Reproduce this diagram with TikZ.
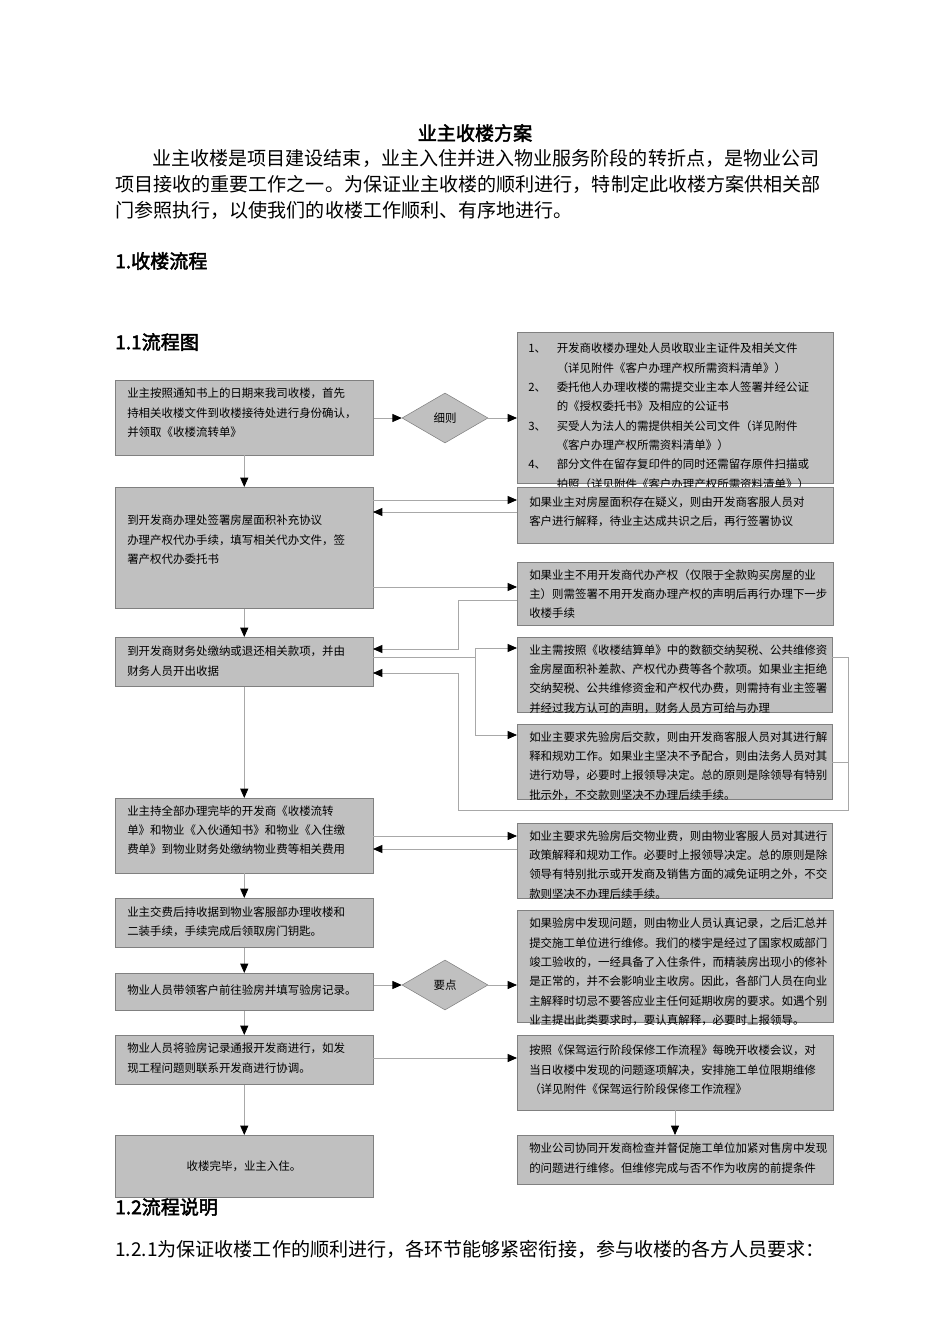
\documentclass[tikz,border=0pt]{standalone}
\usepackage{fontspec}
\setmainfont{Noto Sans CJK SC}[AutoFakeBold=2.5]
\usetikzlibrary{arrows.meta,shapes.geometric}
\definecolor{boxfill}{HTML}{C0C0C0}
\definecolor{boxline}{HTML}{808080}
\definecolor{wire}{HTML}{A8A8A8}
\tikzset{
  box/.style={draw=boxline,fill=boxfill,rectangle,anchor=north west,inner sep=0pt},
  txt/.style={anchor=north west,align=left,inner sep=0pt,font=\fontsize{8.6}{14.5}\selectfont},
  dia/.style={draw=boxline,fill=boxfill,diamond,minimum width=64.5pt,minimum height=37.5pt,inner sep=0pt,font=\fontsize{8.6}{12}\selectfont},
  flow/.style={draw=wire,line width=0.6pt,-{Triangle[length=7pt,width=6pt,fill=black,color=black]}},
  wireline/.style={draw=wire,line width=0.6pt},
  body/.style={anchor=west,inner sep=0pt,font=\fontsize{14.3}{18}\selectfont}
}
\begin{document}
\begin{tikzpicture}[x=0.75pt,y=-0.75pt]
\useasboundingbox (0,0) rectangle (950,1344);

% page text
\node[body,anchor=center,font=\fontsize{14.3}{18}\selectfont\bfseries] (title) at (475,133) {业主收楼方案};
\node[body] (p1) at (152,158) {业主收楼是项目建设结束，业主入住并进入物业服务阶段的转折点，是物业公司};
\node[body] (p2) at (115,184) {项目接收的重要工作之一。为保证业主收楼的顺利进行，特制定此收楼方案供相关部};
\node[body] (p3) at (115,210) {门参照执行，以使我们的收楼工作顺利、有序地进行。};
\node[body,font=\fontsize{14.3}{18}\selectfont\bfseries] (h1) at (115,261) {1.收楼流程};
\node[body,font=\fontsize{14.3}{18}\selectfont\bfseries] (h11) at (115,342) {1.1流程图};
\node[body,font=\fontsize{14.3}{18}\selectfont\bfseries] (h12) at (115,1207) {1.2流程说明};
\node[body] (p4) at (115,1249) {1.2.1为保证收楼工作的顺利进行，各环节能够紧密衔接，参与收楼的各方人员要求：};

% left column
\node[box,minimum width=193.5pt,minimum height=56pt] (l1) at (115,380) {};
\node[txt] at (127,388) {业主按照通知书上的日期来我司收楼，首先\\持相关收楼文件到收楼接待处进行身份确认，\\并领取《收楼流转单》};
\node[box,minimum width=193.5pt,minimum height=91pt] (l2) at (115,487) {};
\node[txt] at (127,515) {到开发商办理处签署房屋面积补充协议\\办理产权代办手续，填写相关代办文件，签\\署产权代办委托书};
\node[box,minimum width=193.5pt,minimum height=37pt] (l3) at (115,637) {};
\node[txt] at (127,646) {到开发商财务处缴纳或退还相关款项，并由\\财务人员开出收据};
\node[box,minimum width=193.5pt,minimum height=56pt] (l4) at (115,798) {};
\node[txt] at (127,805) {业主持全部办理完毕的开发商《收楼流转\\单》和物业《入伙通知书》和物业《入住缴\\费单》到物业财务处缴纳物业费等相关费用};
\node[box,minimum width=193.5pt,minimum height=37pt] (l5) at (115,898) {};
\node[txt] at (127,906) {业主交费后持收据到物业客服部办理收楼和\\二装手续，手续完成后领取房门钥匙。};
\node[box,minimum width=193.5pt,minimum height=28pt] (l6) at (115,973) {};
\node[txt] at (127,984) {物业人员带领客户前往验房并填写验房记录。};
\node[box,minimum width=193.5pt,minimum height=37pt] (l7) at (115,1035) {};
\node[txt] at (127,1043) {物业人员将验房记录通报开发商进行，如发\\现工程问题则联系开发商进行协调。};
\node[box,minimum width=193.5pt,minimum height=46.5pt] (l8) at (115,1135) {};
\node[txt,anchor=center] at (244,1166) {收楼完毕，业主入住。};

% diamonds
\node[dia] (d1) at (445,418) {细则};
\node[dia] (d2) at (445,985) {要点};

% right column
\node[box,minimum width=237pt,minimum height=113pt] (r1) at (517,332) {};
\node[txt] at (528,339) {\begin{tabular}{@{}l@{\hspace{8pt}}l@{}}1、&开发商收楼办理处人员收取业主证件及相关文件\\&（详见附件《客户办理产权所需资料清单》）\\2、&委托他人办理收楼的需提交业主本人签署并经公证\\&的《授权委托书》及相应的公证书\\3、&买受人为法人的需提供相关公司文件（详见附件\\&《客户办理产权所需资料清单》）\\4、&部分文件在留存复印件的同时还需留存原件扫描或\\&拍照（详见附件《客户办理产权所需资料清单》）\end{tabular}};
\node[box,minimum width=237pt,minimum height=42pt] (r2) at (517,487) {};
\node[txt] at (529,496) {如果业主对房屋面积存在疑义，则由开发商客服人员对\\客户进行解释，待业主达成共识之后，再行签署协议};
\node[box,minimum width=237pt,minimum height=47pt] (r3) at (517,562) {};
\node[txt] at (529,569) {如果业主不用开发商代办产权（仅限于全款购买房屋的业\\主）则需签署不用开发商办理产权的声明后再行办理下一步\\收楼手续};
\node[box,minimum width=236pt,minimum height=56pt] (r4) at (517,637) {};
\node[txt] at (529,644) {业主需按照《收楼结算单》中的数额交纳契税、公共维修资\\金房屋面积补差款、产权代办费等各个款项。如果业主拒绝\\交纳契税、公共维修资金和产权代办费，则需持有业主签署\\并经过我方认可的声明，财务人员方可给与办理};
\node[box,minimum width=236pt,minimum height=56pt] (r5) at (517,724) {};
\node[txt] at (529,731) {如业主要求先验房后交款，则由开发商客服人员对其进行解\\释和规劝工作。如果业主坚决不予配合，则由法务人员对其\\进行劝导，必要时上报领导决定。总的原则是除领导有特别\\批示外，不交款则坚决不办理后续手续。};
\node[box,minimum width=236pt,minimum height=56pt] (r6) at (517,823) {};
\node[txt] at (529,830) {如业主要求先验房后交物业费，则由物业客服人员对其进行\\政策解释和规劝工作。必要时上报领导决定。总的原则是除\\领导有特别批示或开发商及销售方面的减免证明之外，不交\\款则坚决不办理后续手续。};
\node[box,minimum width=237pt,minimum height=84pt] (r6b) at (517,910) {};
\node[txt] at (529,918) {如果验房中发现问题，则由物业人员认真记录，之后汇总并\\提交施工单位进行维修。我们的楼宇是经过了国家权威部门\\竣工验收的，一经具备了入住条件，而精装房出现小的修补\\是正常的，并不会影响业主收房。因此，各部门人员在向业\\主解释时切忌不要答应业主任何延期收房的要求。如遇个别\\业主提出此类要求时，要认真解释，必要时上报领导。};
\node[box,minimum width=237pt,minimum height=56pt] (r7) at (517,1035) {};
\node[txt] at (529,1045) {按照《保驾运行阶段保修工作流程》每晚开收楼会议，对\\当日收楼中发现的问题逐项解决，安排施工单位限期维修\\（详见附件《保驾运行阶段保修工作流程》};
\node[box,minimum width=237pt,minimum height=37pt] (r8) at (517,1135) {};
\node[txt] at (529,1143) {物业公司协同开发商检查并督促施工单位加紧对售房中发现\\的问题进行维修。但维修完成与否不作为收房的前提条件};

% main flow
\foreach \a/\b in {l1/l2,l2/l3,l3/l4,l4/l5,l5/l6,l6/l7,l7/l8}
  \path[flow] (\a.south) -- (\b.north);
\path[flow] (l1.east |- d1) -- (d1.west);
\path[flow] (d1.east) -- (r1.west |- d1);
\path[flow] (l6.east |- d2) -- (d2.west);
\path[flow] (d2.east) -- (r6b.west |- d2);
\path[flow] (r7.south -| 675,0) -- (r8.north -| 675,0);

% side connectors
\path[flow] (373,500) -- (517,500);
\path[flow] (517,512) -- (373,512);
\path[flow] (373,587) -- (517,587);
\path[flow] (517,600) -- (458,600) -- (458,649) -- (373,649);
\draw[wireline] (373,657) -- (475,657);
\path[flow] (475,657) |- (517,648);
\path[flow] (475,657) |- (517,735);
\draw[wireline] (832,657) -- (848,657) -- (848,810) -- (458,810) -- (458,673);
\draw[wireline] (832,762) -- (848,762);
\path[flow] (458,673) -- (373,673);
\path[flow] (373,836) -- (517,836);
\path[flow] (517,849) -- (373,849);
\path[flow] (373,1058) -- (517,1058);
\end{tikzpicture}
\end{document}
